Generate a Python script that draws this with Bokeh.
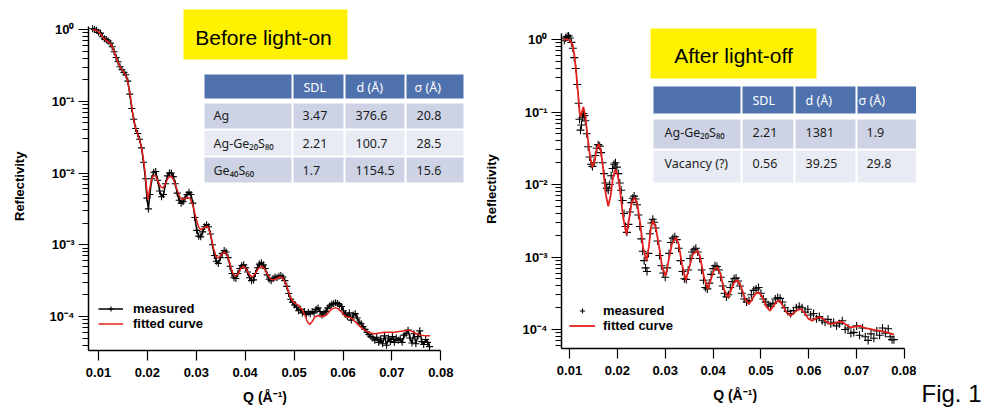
import math
from bokeh.plotting import figure
from bokeh.layouts import row
from bokeh.models import (Range1d, FixedTicker, NumeralTickFormatter, BoxAnnotation,
                          Label, Legend, LegendItem)
from bokeh.embed import file_html
from bokeh.resources import INLINE

# ---------------- data (Q in 1/Angstrom, log10 of reflectivity) ----------------
before_measured = [
    (0.0088, 0.01), (0.0092, 0.00), (0.0096, -0.01), (0.0100, -0.04), (0.0104, -0.05),
    (0.0108, -0.10), (0.0112, -0.13), (0.0116, -0.14), (0.0120, -0.16), (0.0124, -0.19),
    (0.0128, -0.24), (0.0132, -0.31), (0.0136, -0.39), (0.0140, -0.45), (0.0144, -0.52),
    (0.0148, -0.56), (0.0152, -0.60), (0.0156, -0.63), (0.0160, -0.72), (0.0164, -0.90),
    (0.0168, -1.10), (0.0172, -1.25), (0.0176, -1.38), (0.0180, -1.45), (0.0184, -1.53),
    (0.0188, -1.65), (0.0192, -1.85), (0.0196, -2.08), (0.0199, -2.35), (0.0202, -2.50),
    (0.0205, -2.30), (0.0209, -2.08), (0.0213, -1.99), (0.0217, -1.98), (0.0221, -2.10),
    (0.0225, -2.25), (0.0229, -2.33), (0.0233, -2.30), (0.0237, -2.15), (0.0241, -2.04),
    (0.0245, -2.00), (0.0249, -2.00), (0.0253, -2.05), (0.0257, -2.15), (0.0261, -2.28),
    (0.0265, -2.38), (0.0269, -2.42), (0.0273, -2.40), (0.0277, -2.35), (0.0281, -2.30),
    (0.0285, -2.27), (0.0289, -2.30), (0.0293, -2.42), (0.0297, -2.62), (0.0301, -2.80),
    (0.0305, -2.88), (0.0309, -2.89), (0.0313, -2.82), (0.0317, -2.75), (0.0321, -2.72),
    (0.0325, -2.75), (0.0329, -2.85), (0.0333, -3.00), (0.0337, -3.15), (0.0341, -3.23),
    (0.0345, -3.26), (0.0349, -3.18), (0.0353, -3.12), (0.0357, -3.08), (0.0361, -3.10),
    (0.0365, -3.18), (0.0369, -3.30), (0.0373, -3.40), (0.0377, -3.46), (0.0381, -3.47),
    (0.0385, -3.40), (0.0389, -3.33), (0.0393, -3.29), (0.0397, -3.28), (0.0401, -3.32),
    (0.0405, -3.38), (0.0409, -3.46), (0.0413, -3.50), (0.0417, -3.49), (0.0421, -3.40),
    (0.0425, -3.32), (0.0429, -3.27), (0.0433, -3.25), (0.0437, -3.28), (0.0441, -3.33),
    (0.0445, -3.42), (0.0449, -3.48), (0.0453, -3.50), (0.0457, -3.47), (0.0461, -3.45),
    (0.0465, -3.46), (0.0469, -3.44), (0.0473, -3.43), (0.0477, -3.45), (0.0481, -3.50),
    (0.0485, -3.58), (0.0489, -3.68), (0.0493, -3.76), (0.0497, -3.80), (0.0501, -3.84),
    (0.0505, -3.87), (0.0509, -3.92), (0.0513, -3.90), (0.0517, -3.95), (0.0521, -3.93),
    (0.0525, -3.97), (0.0529, -3.94), (0.0533, -3.96), (0.0537, -3.93), (0.0541, -3.95),
    (0.0545, -3.90), (0.0549, -3.88), (0.0553, -3.93), (0.0557, -3.98), (0.0561, -3.95),
    (0.0565, -3.93), (0.0569, -3.88), (0.0573, -3.85), (0.0577, -3.83), (0.0581, -3.82),
    (0.0585, -3.81), (0.0589, -3.82), (0.0593, -3.84), (0.0597, -3.86), (0.0601, -3.92),
    (0.0605, -3.97), (0.0609, -4.00), (0.0613, -3.95), (0.0617, -4.05), (0.0621, -3.98),
    (0.0625, -3.96), (0.0629, -4.02), (0.0633, -4.08), (0.0637, -4.10), (0.0641, -4.14),
    (0.0645, -4.18), (0.0649, -4.22), (0.0653, -4.25), (0.0657, -4.28), (0.0661, -4.30),
    (0.0665, -4.33), (0.0669, -4.29), (0.0673, -4.36), (0.0677, -4.31), (0.0681, -4.38),
    (0.0685, -4.27), (0.0689, -4.40), (0.0693, -4.30), (0.0697, -4.35), (0.0701, -4.28),
    (0.0705, -4.36), (0.0709, -4.30), (0.0713, -4.33), (0.0717, -4.31), (0.0721, -4.36),
    (0.0725, -4.26), (0.0729, -4.24), (0.0733, -4.19), (0.0737, -4.30), (0.0741, -4.37),
    (0.0745, -4.24), (0.0749, -4.38), (0.0753, -4.28), (0.0757, -4.20), (0.0761, -4.35),
    (0.0765, -4.39), (0.0769, -4.32), (0.0773, -4.36), (0.0777, -4.42),
]

before_fitted = [
    (0.0088, 0.00), (0.0095, -0.01), (0.0100, -0.03), (0.0105, -0.07), (0.0110, -0.12),
    (0.0115, -0.15), (0.0120, -0.17), (0.0125, -0.20), (0.0130, -0.27), (0.0135, -0.37),
    (0.0140, -0.46), (0.0145, -0.53), (0.0150, -0.58), (0.0155, -0.63), (0.0160, -0.73),
    (0.0165, -0.92), (0.0170, -1.18), (0.0175, -1.36), (0.0180, -1.46), (0.0185, -1.56),
    (0.0190, -1.72), (0.0195, -1.97), (0.0198, -2.18), (0.0201, -2.37), (0.0204, -2.25),
    (0.0208, -2.10), (0.0212, -2.04), (0.0217, -2.04), (0.0222, -2.12), (0.0227, -2.19),
    (0.0232, -2.21), (0.0237, -2.15), (0.0242, -2.07), (0.0248, -2.04), (0.0254, -2.10),
    (0.0260, -2.22), (0.0266, -2.33), (0.0271, -2.37), (0.0276, -2.36), (0.0281, -2.34),
    (0.0287, -2.35), (0.0293, -2.45), (0.0299, -2.62), (0.0305, -2.76), (0.0310, -2.79),
    (0.0316, -2.76), (0.0323, -2.74), (0.0329, -2.85), (0.0335, -3.05), (0.0341, -3.17),
    (0.0346, -3.18), (0.0352, -3.13), (0.0358, -3.10), (0.0364, -3.16), (0.0370, -3.30),
    (0.0375, -3.40), (0.0380, -3.44), (0.0386, -3.40), (0.0391, -3.33), (0.0397, -3.30),
    (0.0403, -3.35), (0.0409, -3.42), (0.0415, -3.45), (0.0421, -3.40), (0.0427, -3.33),
    (0.0434, -3.30), (0.0440, -3.34), (0.0446, -3.42), (0.0452, -3.48), (0.0458, -3.49),
    (0.0465, -3.47), (0.0471, -3.45), (0.0476, -3.46), (0.0482, -3.52), (0.0487, -3.62),
    (0.0492, -3.72), (0.0497, -3.79), (0.0503, -3.82), (0.0510, -3.85), (0.0516, -3.90),
    (0.0522, -3.98), (0.0527, -4.07), (0.0532, -4.11), (0.0537, -4.07), (0.0542, -4.01),
    (0.0548, -3.99), (0.0554, -4.00), (0.0560, -4.00), (0.0566, -3.98), (0.0572, -3.93),
    (0.0578, -3.89), (0.0584, -3.88), (0.0590, -3.89), (0.0596, -3.93), (0.0602, -3.98),
    (0.0608, -4.01), (0.0614, -4.01), (0.0620, -4.04), (0.0626, -4.08), (0.0632, -4.12),
    (0.0638, -4.16), (0.0644, -4.19), (0.0650, -4.21), (0.0656, -4.23), (0.0665, -4.24),
    (0.0675, -4.23), (0.0685, -4.22), (0.0695, -4.22), (0.0705, -4.22), (0.0715, -4.21),
    (0.0725, -4.20), (0.0734, -4.19), (0.0742, -4.21), (0.0750, -4.24), (0.0760, -4.26),
    (0.0770, -4.27), (0.0778, -4.27),
]

after_measured = [
    (0.0089, -0.01), (0.0092, 0.02), (0.0095, 0.04), (0.0098, 0.05), (0.0101, 0.02),
    (0.0104, -0.04), (0.0107, -0.12), (0.0110, -0.25), (0.0113, -0.40), (0.0116, -0.62),
    (0.0119, -0.88), (0.0121, -1.10), (0.0123, -1.25), (0.0125, -1.18), (0.0127, -1.08),
    (0.0129, -1.02), (0.0131, -1.05), (0.0133, -1.12), (0.0136, -1.30), (0.0139, -1.48),
    (0.0142, -1.62), (0.0145, -1.72), (0.0148, -1.75), (0.0151, -1.70), (0.0154, -1.60),
    (0.0157, -1.50), (0.0160, -1.45), (0.0163, -1.47), (0.0166, -1.56), (0.0169, -1.70),
    (0.0172, -1.85), (0.0175, -1.98), (0.0178, -2.05), (0.0181, -2.08), (0.0184, -2.00),
    (0.0187, -1.88), (0.0190, -1.78), (0.0193, -1.72), (0.0196, -1.70), (0.0199, -1.76),
    (0.0202, -1.85), (0.0205, -1.98), (0.0208, -2.08), (0.0211, -2.22), (0.0214, -2.40),
    (0.0217, -2.58), (0.0220, -2.66), (0.0223, -2.55), (0.0226, -2.38), (0.0229, -2.25),
    (0.0232, -2.19), (0.0235, -2.16), (0.0238, -2.20), (0.0241, -2.28), (0.0244, -2.42),
    (0.0247, -2.58), (0.0250, -2.75), (0.0253, -2.92), (0.0256, -3.05), (0.0259, -3.15),
    (0.0262, -3.20), (0.0265, -2.95), (0.0268, -2.68), (0.0271, -2.53), (0.0274, -2.48),
    (0.0277, -2.52), (0.0280, -2.60), (0.0284, -2.78), (0.0288, -2.98), (0.0292, -3.12),
    (0.0296, -3.22), (0.0300, -3.28), (0.0304, -3.15), (0.0308, -2.95), (0.0312, -2.80),
    (0.0316, -2.74), (0.0320, -2.72), (0.0324, -2.76), (0.0328, -2.88), (0.0332, -3.05),
    (0.0336, -3.20), (0.0340, -3.30), (0.0344, -3.31), (0.0348, -3.18), (0.0352, -3.02),
    (0.0356, -2.93), (0.0360, -2.90), (0.0364, -2.88), (0.0368, -2.93), (0.0372, -3.02),
    (0.0376, -3.18), (0.0380, -3.32), (0.0384, -3.42), (0.0388, -3.44), (0.0392, -3.36),
    (0.0396, -3.24), (0.0400, -3.16), (0.0404, -3.12), (0.0408, -3.13), (0.0412, -3.18),
    (0.0416, -3.28), (0.0420, -3.40), (0.0424, -3.50), (0.0428, -3.55), (0.0432, -3.52),
    (0.0436, -3.42), (0.0440, -3.34), (0.0444, -3.30), (0.0448, -3.29), (0.0452, -3.33),
    (0.0456, -3.40), (0.0460, -3.50), (0.0465, -3.58), (0.0470, -3.62), (0.0475, -3.60),
    (0.0480, -3.52), (0.0485, -3.46), (0.0490, -3.44), (0.0495, -3.42), (0.0500, -3.50),
    (0.0505, -3.58), (0.0510, -3.62), (0.0515, -3.66), (0.0520, -3.68), (0.0525, -3.64),
    (0.0530, -3.58), (0.0535, -3.56), (0.0540, -3.57), (0.0545, -3.62), (0.0550, -3.70),
    (0.0556, -3.75), (0.0562, -3.78), (0.0568, -3.74), (0.0574, -3.70), (0.0580, -3.68),
    (0.0586, -3.70), (0.0592, -3.76), (0.0598, -3.72), (0.0604, -3.80), (0.0610, -3.78),
    (0.0616, -3.85), (0.0622, -3.82), (0.0628, -3.88), (0.0634, -3.90), (0.0640, -3.86),
    (0.0646, -3.92), (0.0652, -3.90), (0.0658, -3.95), (0.0664, -3.92), (0.0670, -3.88),
    (0.0676, -4.00), (0.0682, -3.98), (0.0688, -4.05), (0.0694, -4.04), (0.0700, -3.95),
    (0.0706, -4.08), (0.0712, -3.98), (0.0718, -4.10), (0.0724, -4.15), (0.0730, -4.06),
    (0.0736, -4.12), (0.0742, -4.02), (0.0748, -4.08), (0.0754, -3.98), (0.0760, -4.05),
    (0.0766, -3.99), (0.0770, -4.10), (0.0774, -4.14), (0.0778, -4.14),
]

after_fitted = [
    (0.0088, 0.00), (0.0095, 0.00), (0.0100, -0.01), (0.0105, -0.05), (0.0110, -0.20),
    (0.0114, -0.45), (0.0118, -0.75), (0.0121, -1.00), (0.0123, -1.07), (0.0126, -1.00),
    (0.0129, -0.93), (0.0133, -1.05), (0.0138, -1.35), (0.0143, -1.62), (0.0148, -1.76),
    (0.0153, -1.66), (0.0157, -1.50), (0.0161, -1.44), (0.0166, -1.55), (0.0171, -1.82),
    (0.0176, -2.14), (0.0181, -2.30), (0.0186, -2.15), (0.0191, -1.90), (0.0196, -1.79),
    (0.0201, -1.87), (0.0206, -2.10), (0.0212, -2.45), (0.0219, -2.69), (0.0224, -2.50),
    (0.0230, -2.25), (0.0236, -2.18), (0.0242, -2.28), (0.0248, -2.55), (0.0254, -2.88),
    (0.0261, -3.05), (0.0266, -2.85), (0.0270, -2.60), (0.0274, -2.50), (0.0280, -2.58),
    (0.0287, -2.85), (0.0294, -3.15), (0.0301, -3.26), (0.0307, -3.05), (0.0314, -2.82),
    (0.0322, -2.73), (0.0328, -2.82), (0.0335, -3.10), (0.0343, -3.32), (0.0350, -3.15),
    (0.0358, -2.96), (0.0367, -2.91), (0.0373, -3.00), (0.0381, -3.28), (0.0389, -3.44),
    (0.0396, -3.30), (0.0402, -3.18), (0.0408, -3.14), (0.0415, -3.22), (0.0423, -3.45),
    (0.0431, -3.56), (0.0438, -3.45), (0.0444, -3.35), (0.0451, -3.32), (0.0458, -3.40),
    (0.0467, -3.58), (0.0475, -3.65), (0.0482, -3.58), (0.0489, -3.50), (0.0496, -3.49),
    (0.0503, -3.55), (0.0511, -3.68), (0.0519, -3.74), (0.0526, -3.68), (0.0532, -3.62),
    (0.0538, -3.60), (0.0545, -3.66), (0.0553, -3.76), (0.0562, -3.81), (0.0569, -3.77),
    (0.0576, -3.73), (0.0584, -3.72), (0.0591, -3.77), (0.0599, -3.85), (0.0607, -3.88),
    (0.0614, -3.85), (0.0621, -3.83), (0.0628, -3.84), (0.0636, -3.89), (0.0644, -3.92),
    (0.0652, -3.92), (0.0660, -3.90), (0.0669, -3.89), (0.0677, -3.93), (0.0687, -3.97),
    (0.0697, -3.96), (0.0707, -3.95), (0.0717, -3.98), (0.0727, -3.99), (0.0739, -4.01),
    (0.0751, -4.02), (0.0763, -4.04), (0.0778, -4.07),
]

x_ticks = [0.01, 0.02, 0.03, 0.04, 0.05, 0.06, 0.07, 0.08]
y_ticks = [1e-4, 1e-3, 1e-2, 1e-1, 1.0]
y_tick_labels = ["10\u207b\u2074", "10\u207b\u00b3", "10\u207b\u00b2", "10\u207b\u00b9", "10\u2070"]

table_header = ["", "SDL", "d (Å)", "σ (Å)"]
before_table = [
    ["Ag", "3.47", "376.6", "20.8"],
    ["Ag-Ge\u2082\u2080S\u2088\u2080", "2.21", "100.7", "28.5"],
    ["Ge\u2084\u2080S\u2086\u2080", "1.7", "1154.5", "15.6"],
]
after_table = [
    ["Ag-Ge\u2082\u2080S\u2088\u2080", "2.21", "1381", "1.9"],
    ["Vacancy (?)", "0.56", "39.25", "29.8"],
]

# ---------------- styling ----------------
RED = "#E3201B"
YELLOW = "#FFF200"
HEAD = "#4F72AE"
ROW_A = "#CDD3E4"
ROW_B = "#E8EBF3"
AX_FONT = "Liberation Sans"
TAB_FONT = "Noto Sans"
H = 410
NB = "\u00a0"


def lin(p, p1, v1, p2, v2):
    return v1 + (p - p1) * (v2 - v1) / (p2 - p1)


minor_y = [m * 10.0 ** e for e in range(-5, 0) for m in range(2, 10)]


def no_align(p):
    try:
        p.frame_align = False
    except Exception:
        pass


def make_fig(page_left, width, fl_page, fb_page, qcal, ycal, ytop_axis_page,
             ylab_standoff, ylab_pad, xlab_pad):
    fr_page = page_left + width
    x0 = lin(fl_page, qcal[0], 0.01, qcal[1], 0.08)
    x1 = lin(fr_page, qcal[0], 0.01, qcal[1], 0.08)
    ly_top = lin(0, ycal[0], 0.0, ycal[1], -4.0)
    ly_bot = lin(fb_page, ycal[0], 0.0, ycal[1], -4.0)
    ly_ax = lin(ytop_axis_page, ycal[0], 0.0, ycal[1], -4.0)
    p = figure(width=width, height=H, output_backend="svg", toolbar_location=None,
               x_range=Range1d(x0, x1), y_range=Range1d(10 ** ly_bot, 10 ** ly_top),
               y_axis_type="log")
    no_align(p)
    p.min_border = 0
    p.min_border_left = int(fl_page - page_left)
    p.min_border_bottom = int(H - fb_page)
    p.min_border_top = 0
    p.min_border_right = 0
    p.outline_line_color = None
    p.xgrid.visible = False
    p.ygrid.visible = False
    p.background_fill_color = "white"
    p.border_fill_color = "white"

    p.xaxis.ticker = FixedTicker(ticks=x_ticks)
    p.xaxis.formatter = NumeralTickFormatter(format="0.00")
    p.yaxis.ticker = FixedTicker(ticks=y_ticks, minor_ticks=minor_y)
    p.yaxis.major_label_overrides = dict(zip(y_ticks, y_tick_labels))
    p.xaxis.bounds = (x0, 0.08)
    p.yaxis.bounds = (10 ** ly_bot, 10 ** ly_ax)
    for ax in (p.xaxis, p.yaxis):
        ax.axis_line_color = "black"
        ax.axis_line_width = 1.5
        ax.major_tick_line_color = "black"
        ax.major_tick_line_width = 1.2
        ax.minor_tick_line_color = "black"
        ax.minor_tick_line_width = 1.0
        ax.major_tick_in = 0
        ax.major_tick_out = 10
        ax.minor_tick_in = 0
        ax.minor_tick_out = 6
        ax.major_label_text_font = AX_FONT
        ax.major_label_text_font_style = "bold"
        ax.major_label_text_font_size = "13px"
        ax.major_label_text_color = "black"
        ax.axis_label_text_font = AX_FONT
        ax.axis_label_text_font_style = "bold"
        ax.axis_label_text_color = "black"
    p.xaxis.minor_tick_line_color = None
    p.xaxis.major_label_standoff = 7
    p.yaxis.major_label_standoff = 4
    # axis titles are centred on the frame; pad with no-break spaces so that the
    # visible words sit centred on the drawn axis line, as in the reference
    p.xaxis.axis_label = "Q (Å\u207b\u00b9)" + NB * xlab_pad
    p.xaxis.axis_label_text_font_size = "14px"
    p.xaxis.axis_label_standoff = 9
    p.yaxis.axis_label = "Reflectivity" + NB * ylab_pad
    p.yaxis.axis_label_text_font_size = "13px"
    p.yaxis.axis_label_standoff = ylab_standoff
    return p


class Placer:
    def __init__(self, p, fl, fb):
        self.p, self.fl, self.fb = p, fl, fb

    def box(self, x0, x1, y0, y1, color):
        self.p.add_layout(BoxAnnotation(
            left=x0 - self.fl, right=x1 - self.fl, top=self.fb - y0, bottom=self.fb - y1,
            left_units="screen", right_units="screen", top_units="screen", bottom_units="screen",
            fill_color=color, fill_alpha=1.0, line_color=None))

    def text(self, x, y, t, font, size, style="normal", color="black", align="left"):
        # y is the wanted baseline; the rendered baseline lands ~0.4 em lower
        y_adj = y - 0.4 * size
        self.p.add_layout(Label(
            x=x - self.fl, y=self.fb - y_adj, x_units="screen", y_units="screen", text=t,
            text_font=font, text_font_size=f"{size}px", text_font_style=style,
            text_color=color, text_align=align, text_baseline="alphabetic"))

    def table(self, cols, rows, header, body, hx, bx, hbase, bbase):
        for (c0, c1) in cols:
            self.box(c0, c1, rows[0][0], rows[0][1], HEAD)
        for i, (r0, r1) in enumerate(rows[1:]):
            for (c0, c1) in cols:
                self.box(c0, c1, r0, r1, ROW_A if i % 2 == 0 else ROW_B)
        for j, t in enumerate(header):
            if t:
                self.text(hx[j], hbase, t, TAB_FONT, 12.5, color="white")
        for i, r in enumerate(body):
            for j, t in enumerate(r):
                self.text(bx[j], bbase[i], t, TAB_FONT, 12.5, color="#1c1c1c")


def draw_data(p, meas, fit, connect, marker_size, fit_width):
    mq = [q for q, _ in meas]
    mr = [10 ** v for _, v in meas]
    fq = [q for q, _ in fit]
    fr = [10 ** v for _, v in fit]
    rends = []
    if connect:
        rends.append(p.line(mq, mr, line_color="black", line_width=1.5))
    rends.append(p.scatter(mq, mr, marker="cross", size=marker_size,
                           line_color="black", line_width=1.1))
    fit_r = p.line(fq, fr, line_color=RED, line_width=fit_width)
    return rends, fit_r


def add_legend(p, meas_rends, fit_r, loc, gw, standoff):
    leg = Legend(items=[LegendItem(label="measured", renderers=meas_rends),
                        LegendItem(label="fitted curve", renderers=[fit_r])],
                 location=loc, orientation="vertical", padding=0, margin=0, spacing=-1,
                 glyph_width=gw, glyph_height=13, label_height=13, label_standoff=standoff,
                 label_text_font=AX_FONT, label_text_font_style="bold",
                 label_text_font_size="13px", label_text_color="black",
                 background_fill_alpha=0, border_line_alpha=0)
    p.add_layout(leg)


# ---------------- left panel: before light-on ----------------
FL1, FB1 = 88, 350
p1 = make_fig(0, 480, FL1, FB1, (98, 440.3), (29, 316), 26, 20, 6, 10)
m1, f1 = draw_data(p1, before_measured, before_fitted, True, 7, 1.5)
add_legend(p1, m1, f1, (10, 19), 25, 10)
s1 = Placer(p1, FL1, FB1)
s1.box(183, 347, 9, 59, YELLOW)
s1.text(263, 45, "Before light-on", AX_FONT, 21, align="center")
s1.table([(204, 291), (293, 343), (345, 404), (406, 463)],
         [(74, 98), (103, 128), (130, 155), (157, 182)],
         table_header, before_table,
         [213, 303, 356, 414], [213, 302, 355, 416], 92, [120, 148, 175])

# ---------------- right panel: after light-off ----------------
FL2, FB2 = 561, 348
p2 = make_fig(480, 436, FL2, FB2, (569, 904), (39, 329), 33, 21, 8, 2)
m2, f2 = draw_data(p2, after_measured, after_fitted, False, 8, 1.8)
add_legend(p2, m2, f2, (8, 15), 26, 8)
s2 = Placer(p2, FL2, FB2)
s2.box(650, 816, 28, 78, YELLOW)
s2.text(733, 63, "After light-off", AX_FONT, 21, align="center")
s2.table([(653, 740), (742, 793), (795, 855), (857, 916)],
         [(86, 113), (119, 148), (150, 182)],
         table_header, after_table,
         [664, 752, 805, 858], [664, 752, 805, 866], 105, [137, 168])

# ---------------- figure caption strip ----------------
p3 = figure(width=68, height=H, output_backend="svg", toolbar_location=None,
            x_axis_location=None, y_axis_location=None,
            x_range=Range1d(0, 1), y_range=Range1d(0, 1))
no_align(p3)
p3.min_border = 0
p3.outline_line_color = None
p3.xgrid.visible = False
p3.ygrid.visible = False
p3.background_fill_color = "white"
p3.border_fill_color = "white"
s3 = Placer(p3, 916, H)
s3.text(921, 403, "Fig. 1", AX_FONT, 24)

layout = row(p1, p2, p3)
open("out.html", "w").write(file_html(layout, INLINE))
